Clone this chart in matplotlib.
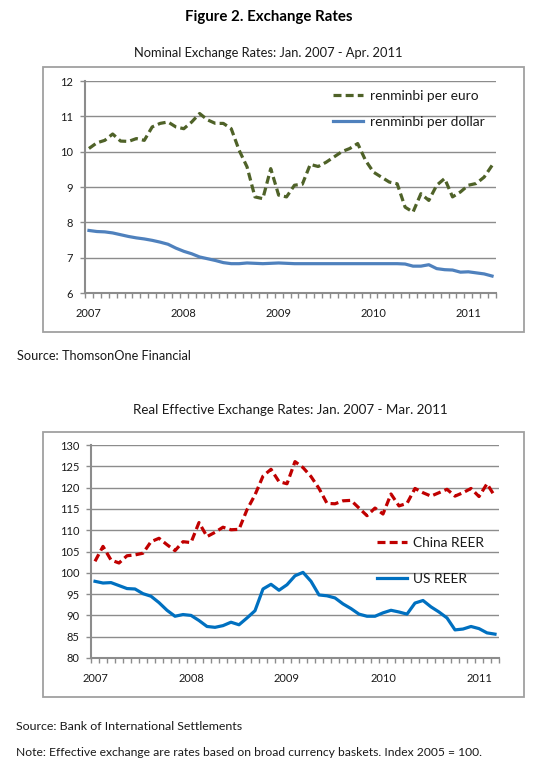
import matplotlib
matplotlib.use("Agg")
import matplotlib.pyplot as plt
from matplotlib.patches import Rectangle
import numpy as np

plt.rcParams['font.family'] = ['Lato', 'DejaVu Sans']

W, H = 559, 768

year_labels = ["2007", "2008", "2009", "2010", "2011"]

# Nominal: Jan 2007 - Apr 2011 (52 months)
rmb_per_euro = [10.09, 10.25, 10.32, 10.50, 10.30, 10.29, 10.37, 10.32, 10.70, 10.80,
                10.84, 10.70, 10.65, 10.84, 11.08, 10.90, 10.80, 10.80, 10.65, 10.04,
                9.57, 8.72, 8.67, 9.52, 8.77, 8.72, 9.05, 9.08, 9.64, 9.58,
                9.70, 9.85, 10.00, 10.09, 10.23, 9.75, 9.42, 9.28, 9.14, 9.09,
                8.43, 8.29, 8.81, 8.62, 9.05, 9.24, 8.72, 8.86, 9.05, 9.10,
                9.28, 9.61]
rmb_per_dollar = [7.77, 7.74, 7.73, 7.70, 7.65, 7.60, 7.56, 7.53, 7.49, 7.44,
                  7.38, 7.27, 7.18, 7.11, 7.02, 6.97, 6.92, 6.86, 6.83, 6.83,
                  6.85, 6.84, 6.83, 6.84, 6.85, 6.84, 6.83, 6.83, 6.83, 6.83,
                  6.83, 6.83, 6.83, 6.83, 6.83, 6.83, 6.83, 6.83, 6.83, 6.83,
                  6.82, 6.76, 6.76, 6.80, 6.69, 6.66, 6.65, 6.59, 6.60, 6.57,
                  6.54, 6.48]

# Real effective: Jan 2007 - Mar 2011 (51 months)
china_reer = [102.7, 106.2, 103.0, 102.3, 104.0, 104.2, 104.6, 107.3, 108.1, 106.6,
              105.2, 107.3, 107.1, 111.8, 108.5, 109.5, 110.7, 110.1, 110.2, 114.8,
              118.3, 122.7, 124.3, 121.4, 120.9, 126.1, 124.7, 122.6, 119.8, 116.3,
              116.2, 116.9, 117.0, 115.2, 113.4, 115.2, 113.8, 118.5, 115.7, 116.3,
              119.8, 118.8, 118.0, 118.8, 119.6, 118.0, 118.8, 119.8, 117.9, 120.9,
              117.9]
us_reer = [98.0, 97.6, 97.7, 97.0, 96.3, 96.2, 95.1, 94.5, 93.0, 91.2,
           89.8, 90.2, 90.0, 88.8, 87.4, 87.2, 87.6, 88.4, 87.8, 89.4,
           91.1, 96.2, 97.3, 95.9, 97.2, 99.3, 100.1, 98.0, 94.8, 94.6,
           94.1, 92.7, 91.6, 90.3, 89.8, 89.8, 90.6, 91.2, 90.8, 90.3,
           92.9, 93.5, 92.0, 90.8, 89.4, 86.6, 86.8, 87.4, 86.9, 85.9,
           85.6]

fig = plt.figure(figsize=(W / 100, H / 100), dpi=100)
fig.patch.set_facecolor("white")


def px_axes(l, t, r, b):
    return fig.add_axes([l / W, 1 - b / H, (r - l) / W, (b - t) / H])


def fx(x):
    return x / W


def fy(y):
    return 1 - y / H


GRID = "#8c8c8c"
SPINE = "#8c8c8c"
TXT = "#1a1a1a"


def style_axes(ax, n, ymin, ymax, ystep):
    ax.set_xlim(-0.5, n - 0.5)
    ax.set_ylim(ymin, ymax)
    ax.set_yticks(np.arange(ymin, ymax + ystep / 2, ystep))
    ax.yaxis.grid(True, color=GRID, linewidth=1.0)
    ax.set_axisbelow(True)
    for s in ["top", "right"]:
        ax.spines[s].set_visible(False)
    for s in ["left", "bottom"]:
        ax.spines[s].set_color(SPINE)
        ax.spines[s].set_linewidth(1.5)
    ax.set_xticks(np.arange(0, n, 12))
    ax.set_xticklabels(year_labels[: len(np.arange(0, n, 12))])
    ax.set_xticks(np.arange(-0.5, n, 1), minor=True)
    ax.tick_params(axis="x", which="major", length=0, pad=11, labelsize=8, labelcolor=TXT)
    ax.tick_params(axis="x", which="minor", length=3.5, width=1.0, color=SPINE, direction="out")
    ax.tick_params(axis="y", which="major", length=3.5, width=1.0, color=SPINE, pad=5,
                   labelsize=8, labelcolor=TXT)


# outer boxes
for (l, t, r, b) in [(43, 67, 524, 332), (43, 432, 524, 697)]:
    fig.patches.append(Rectangle((fx(l), fy(b)), fx(r - l), (b - t) / H,
                                 transform=fig.transFigure, fill=False,
                                 edgecolor="#a0a0a0", linewidth=1.3))

DASH = (0, (2.5, 1.3))
LEG_FS = 9.9

# Top chart
ax1 = px_axes(85, 81, 496, 293)
x1 = np.arange(len(rmb_per_euro))
style_axes(ax1, len(rmb_per_euro), 6, 12, 1)
ax1.plot(x1, rmb_per_euro, color="#4F6228", linewidth=2.3, linestyle=DASH,
         label="renminbi per euro")
ax1.plot(x1, rmb_per_dollar, color="#4F81BD", linewidth=2.3, label="renminbi per dollar")
ax1.legend(loc="upper left", bbox_to_anchor=(fx(333), fy(90)), bbox_transform=fig.transFigure,
           frameon=False, fontsize=LEG_FS, handlelength=2.15, handletextpad=0.55,
           labelspacing=1.02, borderaxespad=0, borderpad=0, labelcolor=TXT)

# Bottom chart
ax2 = px_axes(91, 445, 499, 658)
x2 = np.arange(len(china_reer))
style_axes(ax2, len(china_reer), 80, 130, 5)
ax2.plot(x2, china_reer, color="#C00000", linewidth=2.3, linestyle=DASH,
         label="China REER")
ax2.plot(x2, us_reer, color="#0070C0", linewidth=2.3, label="US REER")
ax2.legend(loc="upper left", bbox_to_anchor=(fx(377), fy(537)), bbox_transform=fig.transFigure,
           frameon=False, fontsize=LEG_FS, handlelength=2.15, handletextpad=0.5,
           labelspacing=1.75, borderaxespad=0, borderpad=0, labelcolor=TXT)

# Texts
fig.text(fx(269), fy(17), "Figure 2. Exchange Rates", ha="center", va="center",
         fontsize=10.8, fontweight="bold", color="black")
fig.text(fx(268), fy(53), "Nominal Exchange Rates: Jan. 2007 - Apr. 2011", ha="center",
         va="center", fontsize=9.3, color=TXT)
fig.text(fx(290), fy(410), "Real Effective Exchange Rates: Jan. 2007 - Mar. 2011",
         ha="center", va="center", fontsize=9.6, color=TXT)
fig.text(fx(17), fy(356), "Source: ThomsonOne Financial", ha="left", va="center",
         fontsize=9.2, color=TXT)
fig.text(fx(16), fy(726), "Source: Bank of International Settlements", ha="left",
         va="center", fontsize=8.9, color=TXT)
fig.text(fx(16), fy(752),
         "Note: Effective exchange are rates based on broad currency baskets. Index 2005 = 100.",
         ha="left", va="center", fontsize=8.7, color=TXT)

fig.savefig("out.png", dpi=100, facecolor="white")
